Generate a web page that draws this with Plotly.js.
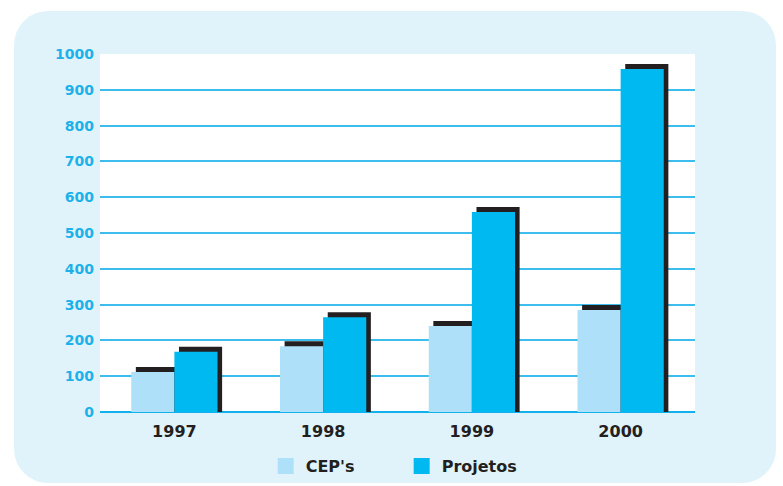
<!DOCTYPE html>
<html>
<head>
<meta charset="utf-8">
<script src="https://cdn.plot.ly/plotly-3.0.1.min.js"></script>
<style>
  html, body { margin: 0; padding: 0; background: #ffffff; }
  #bg { position: absolute; left: 14px; top: 11px; width: 762px; height: 472px;
        background: #e0f3fb; border-radius: 34px; }
  #chart { position: absolute; left: 0; top: 0; width: 783px; height: 486px; }
</style>
</head>
<body>
<div id="bg"></div>
<div id="chart"></div>
<script>
const years = ['1997', '1998', '1999', '2000'];
const ceps = [112, 184, 240, 285];
const projetos = [168, 265, 559, 958];
const yTicks = [0, 100, 200, 300, 400, 500, 600, 700, 800, 900, 1000];
const seriesNames = ["CEP's", 'Projetos'];

const colCep = '#aee0fa';
const colProj = '#00b9f1';
const colShadow = '#231f20';

// shadow offset in pixels (right, up)
const plotW = 595, plotH = 358;
const shiftX = 4.6 / (plotW / years.length);
const shiftY = 5 / (plotH / 1000);

// shadow bars: drawn on a shifted copy of the axes, running from the plot floor
const shadowLen = arr => arr.map(v => v + shiftY);

const traces = [
  { type: 'bar', x: years, y: shadowLen(ceps), base: -shiftY, xaxis: 'x', yaxis: 'y',
    marker: { color: colShadow }, showlegend: false, hoverinfo: 'skip' },
  { type: 'bar', x: years, y: shadowLen(projetos), base: -shiftY, xaxis: 'x', yaxis: 'y',
    marker: { color: colShadow }, showlegend: false, hoverinfo: 'skip' },
  { type: 'bar', x: years, y: ceps, name: seriesNames[0], xaxis: 'x2', yaxis: 'y2',
    marker: { color: colCep }, showlegend: false },
  { type: 'bar', x: years, y: projetos, name: seriesNames[1], xaxis: 'x2', yaxis: 'y2',
    marker: { color: colProj }, showlegend: false },
  { type: 'scatter', mode: 'markers', x: [null], y: [null], name: seriesNames[0],
    xaxis: 'x2', yaxis: 'y2', marker: { symbol: 'square', size: 16, color: colCep } },
  { type: 'scatter', mode: 'markers', x: [null], y: [null], name: seriesNames[1],
    xaxis: 'x2', yaxis: 'y2', marker: { symbol: 'square', size: 16, color: colProj } }
];

const layout = {
  width: 783, height: 486,
  margin: { l: 100, r: 88, t: 54, b: 74, autoexpand: false },
  paper_bgcolor: 'rgba(0,0,0,0)',
  plot_bgcolor: '#ffffff',
  barmode: 'group',
  bargap: 0.42,
  bargroupgap: 0,
  showlegend: true,
  font: { family: 'DejaVu Sans', color: '#231f20' },
  xaxis: { type: 'category', range: [-0.5 - shiftX, years.length - 0.5 - shiftX],
           visible: false, fixedrange: true },
  yaxis: { range: [-shiftY, 1000 - shiftY], visible: false, fixedrange: true },
  xaxis2: { type: 'category', overlaying: 'x', side: 'bottom',
            range: [-0.5, years.length - 0.5],
            showgrid: false, zeroline: false, showline: false, ticks: '',
            ticklabelstandoff: 8,
            tickfont: { family: 'DejaVu Sans', size: 16, weight: 'bold', color: '#231f20' } },
  yaxis2: { overlaying: 'y', side: 'left', range: [0, 1000],
            tickmode: 'array', tickvals: yTicks, ticktext: yTicks.map(String),
            showgrid: true, gridcolor: '#3dbdee', gridwidth: 2,
            zeroline: true, zerolinecolor: '#12b1ec', zerolinewidth: 2,
            showline: false, ticks: '', ticklabelstandoff: 5,
            tickfont: { family: 'DejaVu Sans', size: 14, weight: 'bold', color: '#1db1ea' } },
  legend: { orientation: 'h', x: 0.507, xanchor: 'center', y: -0.151, yanchor: 'middle',
            bgcolor: 'rgba(0,0,0,0)', entrywidth: 91, entrywidthmode: 'pixels',
            font: { family: 'DejaVu Sans', size: 16, weight: 'bold', color: '#231f20' } }
};

Plotly.newPlot('chart', traces, layout, { displayModeBar: false, staticPlot: true });
</script>
</body>
</html>
